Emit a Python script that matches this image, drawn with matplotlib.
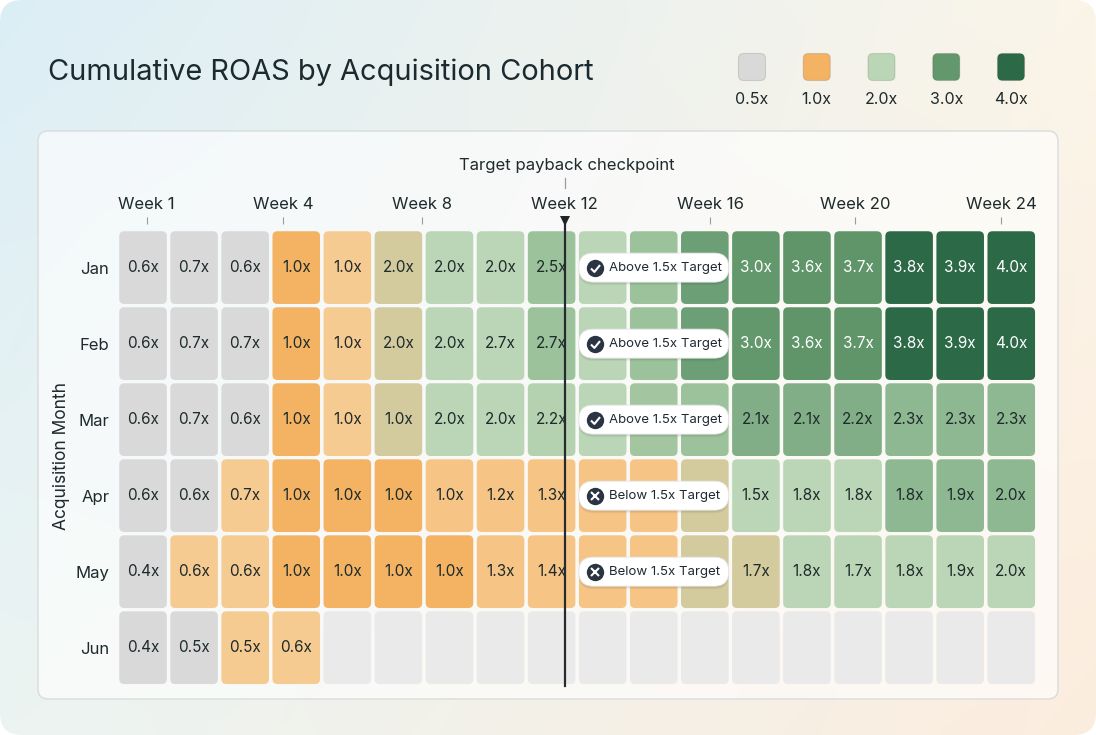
import numpy as np
import matplotlib
matplotlib.use("Agg")
import matplotlib.pyplot as plt
from matplotlib.patches import FancyBboxPatch
from matplotlib.colors import LinearSegmentedColormap, Normalize
from matplotlib.path import Path

plt.rcParams['font.family'] = ['Inter', 'DejaVu Sans']

# ---------------- data ----------------
months = ["Jan", "Feb", "Mar", "Apr", "May", "Jun"]
week_labels = ["Week 1", "Week 4", "Week 8", "Week 12", "Week 16", "Week 20", "Week 24"]
week_tick_pos = [0.07, 2.74, 5.46, 8.26, 11.11, 13.95, 16.80]
checkpoint_pos = 8.26
checkpoint_col = 8
target_roas = 1.5

roas_jan = [0.6, 0.7, 0.6, 1.0, 1.0, 2.0, 2.0, 2.0, 2.5, 2.2, 2.6, 3.0, 3.0, 3.6, 3.7, 3.8, 3.9, 4.0]
roas_feb = [0.6, 0.7, 0.7, 1.0, 1.0, 2.0, 2.0, 2.7, 2.7, 2.2, 2.6, 3.0, 3.0, 3.6, 3.7, 3.8, 3.9, 4.0]
roas_mar = [0.6, 0.7, 0.6, 1.0, 1.0, 1.0, 2.0, 2.0, 2.2, 2.1, 2.1, 2.1, 2.1, 2.1, 2.2, 2.3, 2.3, 2.3]
roas_apr = [0.6, 0.6, 0.7, 1.0, 1.0, 1.0, 1.0, 1.2, 1.3, 1.3, 1.4, 1.4, 1.5, 1.8, 1.8, 1.8, 1.9, 2.0]
roas_may = [0.4, 0.6, 0.6, 1.0, 1.0, 1.0, 1.0, 1.3, 1.4, 1.4, 1.4, 1.5, 1.7, 1.8, 1.7, 1.8, 1.9, 2.0]
roas_jun = [0.4, 0.5, 0.5, 0.6] + [None] * 14

# colour level of each cell's fill (legend scale)
shade_jan = [0.5, 0.5, 0.5, 1.0, 0.8, 1.5, 2.0, 2.0, 2.5, 2.0, 2.5, 2.9, 3.0, 3.1, 3.1, 4.0, 4.0, 4.0]
shade_feb = [0.5, 0.5, 0.5, 1.0, 0.8, 1.5, 2.0, 2.0, 2.5, 2.0, 2.5, 2.9, 3.0, 3.1, 3.1, 4.0, 4.0, 4.0]
shade_mar = [0.5, 0.5, 0.5, 1.0, 0.8, 1.5, 2.0, 2.0, 2.1, 2.0, 2.4, 2.5, 2.7, 2.7, 2.7, 2.6, 2.6, 2.6]
shade_apr = [0.5, 0.5, 0.8, 1.0, 1.0, 1.0, 0.85, 0.85, 0.85, 0.85, 0.85, 1.5, 2.0, 2.0, 2.0, 2.6, 2.6, 2.6]
shade_may = [0.5, 0.8, 0.8, 1.0, 1.0, 1.0, 1.0, 0.85, 0.85, 0.85, 0.85, 1.5, 1.5, 2.0, 2.0, 2.0, 2.0, 2.0]
shade_jun = [0.5, 0.5, 0.8, 0.8] + [None] * 14

legend_levels = [0.5, 1.0, 2.0, 3.0, 4.0]
legend_labels = ["0.5x", "1.0x", "2.0x", "3.0x", "4.0x"]

roas = [roas_jan, roas_feb, roas_mar, roas_apr, roas_may, roas_jun]
shade = [shade_jan, shade_feb, shade_mar, shade_apr, shade_may, shade_jun]
n_rows, n_cols = len(roas), len(roas[0])

# ---------------- colours ----------------
vmin, vmax = 0.5, 4.0
nodes = [(0.5, "#d9d9d9"), (0.8, "#f7ca8f"), (1.0, "#f3b262"), (1.5, "#d3ca9d"),
         (2.0, "#bbd6b6"), (2.5, "#9cc29a"), (2.7, "#80ae87"), (3.0, "#63986c"),
         (3.5, "#4f8a5e"), (4.0, "#2c6947")]
cmap = LinearSegmentedColormap.from_list(
    "roas", [((v - vmin) / (vmax - vmin), c) for v, c in nodes])
norm = Normalize(vmin, vmax)
empty_color = "#eaeaea"
text_dark = "#1e2a2b"

W, H = 1096, 735
fig = plt.figure(figsize=(W / 100, H / 100), dpi=100)
fig.patch.set_facecolor("white")

# ---------------- background ----------------
bg = fig.add_axes([0, 0, 1, 1])
bg.set_xlim(0, W)
bg.set_ylim(H, 0)
bg.axis("off")
tl = np.array([220, 238, 246]) / 255
tr = np.array([251, 245, 233]) / 255
bl = np.array([236, 244, 242]) / 255
br = np.array([252, 237, 222]) / 255
gx = np.linspace(0, 1, 220)[None, :, None]
gy = np.linspace(0, 1, 150)[:, None, None]
img = (1 - gy) * ((1 - gx) * tl + gx * tr) + gy * ((1 - gx) * bl + gx * br)
im = bg.imshow(img, extent=(0, W, H, 0), aspect="auto", interpolation="bilinear", zorder=0)
clip = FancyBboxPatch((0, 0), W, H, boxstyle="round,pad=0,rounding_size=22",
                      transform=bg.transData, fc="none", ec="none")
bg.add_patch(clip)
im.set_clip_path(clip)

panel = FancyBboxPatch((38, 131), 1020, 568, boxstyle="round,pad=0,rounding_size=10",
                       fc=(1, 1, 1, 0.62), ec="#d8dcdc", lw=1.0, zorder=1)
bg.add_patch(panel)

bg.text(48, 72, "Cumulative ROAS by Acquisition Cohort", fontsize=20.9,
        color="#1b2a2e", ha="left", va="center", zorder=3)

# legend
leg_x0, leg_dx = 752, 64.75
for k, (lv, lb) in enumerate(zip(legend_levels, legend_labels)):
    cx = leg_x0 + k * leg_dx
    bg.add_patch(FancyBboxPatch((cx - 13.5, 67 - 13.5), 27, 27,
                                boxstyle="round,pad=0,rounding_size=5",
                                fc=cmap(norm(lv)), ec=(0, 0, 0, 0.12), lw=0.8, zorder=3))
    bg.text(cx, 99, lb, fontsize=11.5, color=text_dark, ha="center", va="center", zorder=3)

bg.text(567, 165, "Target payback checkpoint", fontsize=12, color=text_dark,
        ha="center", va="center", zorder=3)
bg.plot([564.6, 564.6], [178, 188], color="#9a9a9a", lw=0.9, zorder=3)
bg.text(61, 456, "Acquisition Month", fontsize=12.5, color=text_dark, rotation=90,
        ha="center", va="center", zorder=3)

# ---------------- heatmap ----------------
left_px, right_px, top_px, bot_px = 117.5, 1036.8, 229.6, 685.7
ax = fig.add_axes([left_px / W, (H - bot_px) / H, (right_px - left_px) / W, (bot_px - top_px) / H])
ax.set_xlim(-0.5, n_cols - 0.5)
ax.set_ylim(n_rows - 0.5, -0.5)
ax.patch.set_alpha(0)
for sp in ax.spines.values():
    sp.set_visible(False)

px_x = (right_px - left_px) / n_cols
px_y = (bot_px - top_px) / n_rows
asp = px_x / px_y
ix = 1.75 / px_x
iy = 1.65 / px_y
rr = 5.0 / px_x

# status badge geometry (placed over the columns just after the checkpoint)
badge_cx, badge_w, badge_h = 10.0, 150 / px_x, 29 / px_y
pill_r = 14.5 / px_x
has_badge = [roas[i][checkpoint_col] is not None for i in range(n_rows)]

for i in range(n_rows):
    for j in range(n_cols):
        v = roas[i][j]
        s = shade[i][j]
        fc = empty_color if s is None else cmap(norm(s))
        ax.add_patch(FancyBboxPatch((j - 0.5 + ix, i - 0.5 + iy), 1 - 2 * ix, 1 - 2 * iy,
                                    boxstyle=f"round,pad=0,rounding_size={rr}",
                                    mutation_aspect=asp, fc=fc, ec="none", zorder=1))
        covered = has_badge[i] and abs(j - badge_cx) < badge_w / 2
        if v is not None and not covered:
            tc = "white" if s >= 2.9 else text_dark
            ax.text(j, i, f"{v:.1f}x", ha="center", va="center", fontsize=11,
                    color=tc, zorder=2)

# checkpoint line and marker
ax.plot([checkpoint_pos, checkpoint_pos], [-0.607, n_rows - 0.5], color="#262b30",
        lw=1.6, zorder=4, clip_on=False)
ax.plot([checkpoint_pos], [-0.607], marker="v", ms=7.5, color="#1f2428",
        zorder=6, clip_on=False, mew=0)

# week ticks
ax.xaxis.tick_top()
ax.set_xticks(week_tick_pos)
ax.set_xticklabels(week_labels)
ax.spines["top"].set_position(("outward", 4))
ax.tick_params(axis="x", length=5, width=0.8, color="#9a9a9a", pad=4,
               labelsize=12, labelcolor=text_dark)
ax.set_yticks(range(n_rows))
ax.set_yticklabels(months)
ax.tick_params(axis="y", length=0, pad=6, labelsize=12, labelcolor=text_dark)

# status badges at the checkpoint
check_path = Path([(-0.5, 0.0), (-0.12, -0.38), (0.5, 0.38)],
                  [Path.MOVETO, Path.LINETO, Path.LINETO])
for i in range(n_rows):
    if not has_badge[i]:
        continue
    v = roas[i][checkpoint_col]
    above = v >= target_roas
    for dy, a in [(3.0, 0.05), (1.5, 0.08)]:
        ax.add_patch(FancyBboxPatch((badge_cx - badge_w / 2, i - badge_h / 2 + dy / px_y),
                                    badge_w, badge_h,
                                    boxstyle=f"round,pad=0,rounding_size={pill_r}",
                                    mutation_aspect=asp, fc=(0, 0, 0, a), ec="none", zorder=5))
    ax.add_patch(FancyBboxPatch((badge_cx - badge_w / 2, i - badge_h / 2), badge_w, badge_h,
                                boxstyle=f"round,pad=0,rounding_size={pill_r}",
                                mutation_aspect=asp, fc="white", ec="#e4e6e8", lw=0.6, zorder=5))
    icon_x = badge_cx - badge_w / 2 + 16 / px_x
    ax.plot([icon_x], [i], "o", ms=12.5, color="#2b3442", mew=0, zorder=6)
    if above:
        ax.plot([icon_x], [i], marker=check_path, ms=6.5, mec="white", mfc="none",
                mew=1.5, zorder=7)
        lab = f"Above {target_roas:.1f}x Target"
    else:
        ax.plot([icon_x], [i], marker="x", ms=5.5, mec="white", mew=1.5, zorder=7)
        lab = f"Below {target_roas:.1f}x Target"
    ax.text(badge_cx - badge_w / 2 + 30 / px_x, i, lab, ha="left", va="center",
            fontsize=9.5, color="#1f2933", zorder=7)

fig.savefig("out.png", dpi=100)
